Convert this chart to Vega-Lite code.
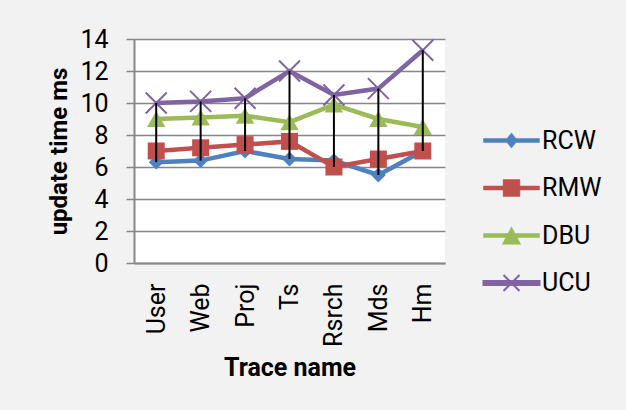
{
  "$schema": "https://vega.github.io/schema/vega-lite/v6.json",
  "width": 311,
  "height": 224,
  "autosize": {"type": "none"},
  "padding": {"left": 134, "top": 39, "right": 181, "bottom": 147},
  "background": "#f2f2f2",
  "config": {
    "font": "Roboto",
    "view": {"fill": "white", "stroke": null}
  },
  "data": {
    "values": [
      {"trace": "User", "series": "RCW", "value": 6.3},
      {"trace": "Web", "series": "RCW", "value": 6.4},
      {"trace": "Proj", "series": "RCW", "value": 7.0},
      {"trace": "Ts", "series": "RCW", "value": 6.5},
      {"trace": "Rsrch", "series": "RCW", "value": 6.4},
      {"trace": "Mds", "series": "RCW", "value": 5.5},
      {"trace": "Hm", "series": "RCW", "value": 7.0},
      {"trace": "User", "series": "RMW", "value": 7.0},
      {"trace": "Web", "series": "RMW", "value": 7.2},
      {"trace": "Proj", "series": "RMW", "value": 7.4},
      {"trace": "Ts", "series": "RMW", "value": 7.6},
      {"trace": "Rsrch", "series": "RMW", "value": 6.0},
      {"trace": "Mds", "series": "RMW", "value": 6.5},
      {"trace": "Hm", "series": "RMW", "value": 7.0},
      {"trace": "User", "series": "DBU", "value": 9.0},
      {"trace": "Web", "series": "DBU", "value": 9.1},
      {"trace": "Proj", "series": "DBU", "value": 9.2},
      {"trace": "Ts", "series": "DBU", "value": 8.8},
      {"trace": "Rsrch", "series": "DBU", "value": 9.9},
      {"trace": "Mds", "series": "DBU", "value": 9.0},
      {"trace": "Hm", "series": "DBU", "value": 8.5},
      {"trace": "User", "series": "UCU", "value": 10.0},
      {"trace": "Web", "series": "UCU", "value": 10.1},
      {"trace": "Proj", "series": "UCU", "value": 10.3},
      {"trace": "Ts", "series": "UCU", "value": 12.0},
      {"trace": "Rsrch", "series": "UCU", "value": 10.5},
      {"trace": "Mds", "series": "UCU", "value": 10.9},
      {"trace": "Hm", "series": "UCU", "value": 13.3}
    ]
  },
  "encoding": {
    "x": {
      "field": "trace",
      "type": "nominal",
      "sort": ["User", "Web", "Proj", "Ts", "Rsrch", "Mds", "Hm"],
      "scale": {"type": "point", "padding": 0.5},
      "axis": {
        "title": "Trace name",
        "titleFont": "Roboto",
        "titleFontSize": 25,
        "titleFontWeight": "bold",
        "titleColor": "black",
        "titlePadding": 9,
        "labelAngle": -90,
        "labelFont": "Roboto",
        "labelFontSize": 25,
        "labelColor": "black",
        "labelPadding": 20,
        "ticks": false,
        "tickSize": 0,
        "domainColor": "#868686",
        "domainWidth": 2,
        "grid": false
      }
    },
    "y": {
      "field": "value",
      "type": "quantitative",
      "scale": {"domain": [0, 14], "nice": false},
      "axis": {
        "title": "update time ms",
        "titleFont": "Roboto",
        "titleFontSize": 24,
        "titleFontWeight": "bold",
        "titleColor": "black",
        "titlePadding": 8,
        "values": [0, 2, 4, 6, 8, 10, 12, 14],
        "labelFont": "Roboto",
        "labelFontSize": 25,
        "labelColor": "black",
        "labelPadding": 18,
        "tickSize": 8,
        "tickColor": "#868686",
        "tickWidth": 1.5,
        "domainColor": "#868686",
        "domainWidth": 2,
        "gridColor": "#868686",
        "gridWidth": 1.5
      }
    },
    "color": {
      "field": "series",
      "type": "nominal",
      "sort": ["RCW", "RMW", "DBU", "UCU"],
      "scale": {"domain": ["RCW", "RMW", "DBU", "UCU"], "range": ["#4F81BD", "#C0504D", "#9BBB59", "#8064A2"]},
      "legend": {
        "title": null,
        "orient": "none",
        "legendX": 365,
        "legendY": 89,
        "padding": 0,
        "symbolSize": 1600,
        "symbolType": "M-1.4,-0.1H1.4V0.1H-1.4Z",
        "rowPadding": 21.5,
        "labelOffset": 18,
        "labelFont": "Roboto",
        "labelFontSize": 25,
        "labelColor": "black",
        "encode": {
          "symbols": {
            "update": {
              "shape": {"signal": "datum.value == 'RCW' ? 'M-1.4,-0.1H1.4V0.1H-1.4ZM0,-0.38L0.3,0L0,0.38L-0.3,0Z' : datum.value == 'RMW' ? 'M-1.4,-0.1H1.4V0.1H-1.4ZM-0.42,-0.42H0.42V0.42H-0.42Z' : datum.value == 'DBU' ? 'M-1.4,-0.1H1.4V0.1H-1.4ZM0,-0.44L0.46,0.44L-0.46,0.44Z' : 'M-1.4,-0.1H1.4V0.1H-1.4ZM-0.4,-0.4L0.4,0.4M-0.4,0.4L0.4,-0.4'"},
              "size": {"value": 1600},
              "strokeWidth": {"signal": "datum.value == 'UCU' ? 2 : 0.5"},
              "fillOpacity": {"value": 1},
              "opacity": {"value": 1}
            }
          }
        }
      }
    }
  },
  "layer": [
    {
      "mark": {"type": "line", "strokeWidth": 4.5}
    },
    {
      "transform": [{"filter": "datum.series == 'RCW'"}],
      "mark": {"type": "point", "shape": "diamond", "size": 220, "filled": true, "opacity": 1, "strokeWidth": 2},
      "encoding": {"stroke": {"field": "series", "type": "nominal", "scale": null}}
    },
    {
      "transform": [{"filter": "datum.series == 'RMW'"}],
      "mark": {"type": "point", "shape": "square", "size": 289, "filled": true, "opacity": 1}
    },
    {
      "transform": [{"filter": "datum.series == 'DBU'"}],
      "mark": {"type": "point", "shape": "triangle-up", "size": 340, "filled": true, "opacity": 1}
    },
    {
      "transform": [{"filter": "datum.series == 'UCU'"}],
      "mark": {"type": "point", "shape": "M-1,-1L1,1M-1,1L1,-1", "size": 441, "filled": false, "opacity": 1, "strokeWidth": 2}
    },
    {
      "transform": [
        {"aggregate": [{"op": "min", "field": "value", "as": "lo"}, {"op": "max", "field": "value", "as": "hi"}], "groupby": ["trace"]}
      ],
      "mark": {"type": "rule", "color": "black", "strokeWidth": 2},
      "encoding": {
        "y": {"field": "lo", "type": "quantitative"},
        "y2": {"field": "hi"},
        "color": {"value": "black"}
      }
    }
  ]
}
